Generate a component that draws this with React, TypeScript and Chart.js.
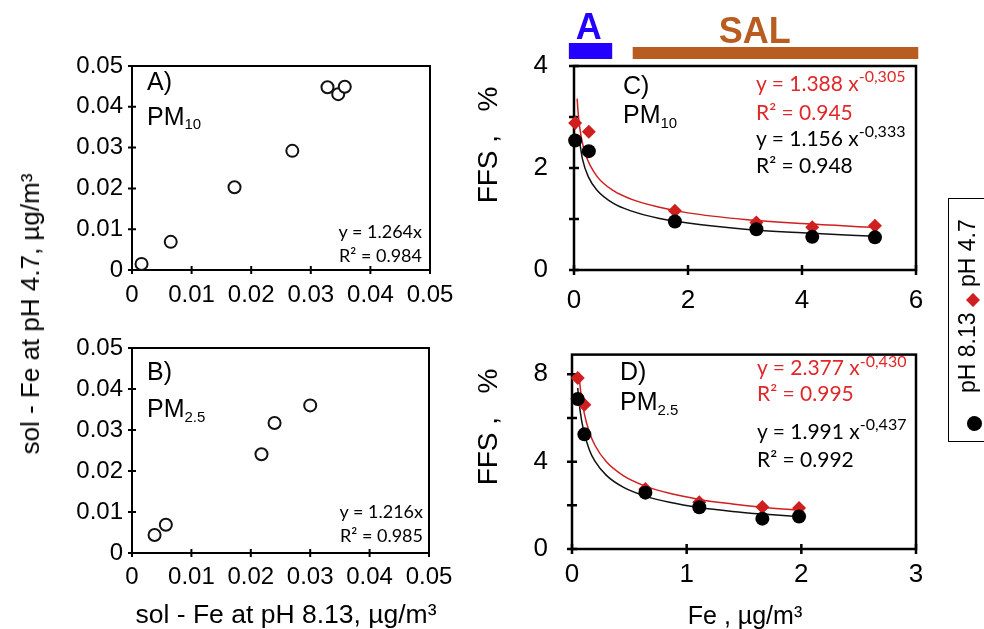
import React, { useEffect, useRef } from 'react';
import { Chart, registerables } from 'chart.js';

Chart.register(...registerables);

const ARIAL = '"Liberation Sans", Arial, sans-serif';
const CALI = 'Lato, "Liberation Sans", sans-serif';
const RED = '#d01f1f';
const RED_TEXT = '#e0282a';

// ---------------- data ----------------
// Panel A (PM10): sol-Fe at pH 8.13 (x) vs sol-Fe at pH 4.7 (y)
const aSolFePH813 = [0.0016, 0.0065, 0.0172, 0.0269, 0.0328, 0.0346, 0.0357];
const aSolFePH47 = [0.0015, 0.0069, 0.0203, 0.0292, 0.0448, 0.0431, 0.0449];
// Panel B (PM2.5)
const bSolFePH813 = [0.0038, 0.0057, 0.0218, 0.024, 0.03];
const bSolFePH47 = [0.0044, 0.0069, 0.0241, 0.0317, 0.036];
// Panel C (PM10): Fe vs FFS
const cFe = [0.02, 0.26, 1.77, 3.2, 4.18, 5.28];
const cFfsPH47 = [2.88, 2.71, 1.16, 0.93, 0.84, 0.87];
const cFfsPH813 = [2.54, 2.33, 0.95, 0.8, 0.65, 0.64];
const cFitFePH47 = [0.055, 0.07, 0.1, 0.14, 0.2, 0.4, 0.7, 1, 1.5, 2, 3, 4, 5.28];
const cFitFfsPH47 = [3.36, 3.12, 2.8, 2.53, 2.27, 1.84, 1.55, 1.39, 1.23, 1.12, 0.99, 0.91, 0.835];
const cFitFePH813 = [0.09, 0.15, 0.25, 0.4, 0.7, 1, 1.5, 2, 3, 4, 5.28];
const cFitFfsPH813 = [2.58, 2.17, 1.83, 1.57, 1.3, 1.16, 1.01, 0.92, 0.8, 0.73, 0.66];
// Panel D (PM2.5)
const dFe = [0.05, 0.108, 0.64, 1.11, 1.66, 1.98];
const dFfsPH47 = [7.83, 6.6, 2.75, 2.14, 1.92, 1.88];
const dFfsPH813 = [6.87, 5.25, 2.58, 1.91, 1.39, 1.49];
const dFitFePH47 = [0.058, 0.08, 0.108, 0.15, 0.2, 0.3, 0.45, 0.64, 0.85, 1.11, 1.4, 1.66, 1.98];
const dFitFfsPH47 = [8.08, 7.04, 6.19, 5.37, 4.75, 3.99, 3.35, 2.88, 2.55, 2.27, 2.06, 1.91, 1.77];
const dFitFePH813 = [0.05, 0.07, 0.1, 0.15, 0.2, 0.3, 0.45, 0.64, 0.85, 1.11, 1.4, 1.66, 1.98];
const dFitFfsPH813 = [7.37, 6.36, 5.45, 4.56, 4.02, 3.37, 2.82, 2.42, 2.14, 1.9, 1.72, 1.6, 1.48];
// Period bands above panel C
const bandLabels = ['A', 'SAL'];
const bandFrom = [-0.09, 1.03];
const bandTo = [0.67, 6.04];
const bandLabelAt = [0.26, 3.17];
const bandColors = ['#2400ff', '#b85c20'];
// Tick labels
const abTickLabels = ['0', '0.01', '0.02', '0.03', '0.04', '0.05'];
const cXTickLabels = ['0', '2', '4', '6'];
const cYTickLabels = ['0', '', '2', '', '4'];
const dXTickLabels = ['0', '1', '2', '3'];
const dYTickLabels = ['0', '', '4', '', '8'];

const pts = (xs: number[], ys: number[]) => xs.map((x, i) => ({ x, y: ys[i] }));

const framePlugin = {
  id: 'frame',
  beforeDatasetsDraw(chart: any, _a: any, opts: any) {
    const { ctx, chartArea: ca, scales } = chart;
    ctx.save();
    ctx.strokeStyle = '#000';
    ctx.lineWidth = opts.width;
    ctx.strokeRect(ca.left, ca.top, ca.right - ca.left, ca.bottom - ca.top);
    ctx.beginPath();
    scales.x.ticks.forEach((t: any) => {
      const p = scales.x.getPixelForValue(t.value);
      ctx.moveTo(p, ca.bottom - opts.inner);
      ctx.lineTo(p, ca.bottom + opts.outer);
    });
    scales.y.ticks.forEach((t: any) => {
      const p = scales.y.getPixelForValue(t.value);
      ctx.moveTo(ca.left - opts.outer, p);
      ctx.lineTo(ca.left + opts.inner, p);
    });
    ctx.stroke();
    ctx.restore();
  },
};

const bandPlugin = {
  id: 'bands',
  afterDraw(chart: any) {
    const { ctx, chartArea: ca, scales } = chart;
    ctx.save();
    bandLabels.forEach((lab, i) => {
      const x0 = scales.x.getPixelForValue(bandFrom[i]);
      const x1 = scales.x.getPixelForValue(bandTo[i]);
      ctx.fillStyle = bandColors[i];
      const top = i === 0 ? ca.top - 23 : ca.top - 19;
      ctx.fillRect(x0, top, x1 - x0, ca.top - 7 - top);
      ctx.font = `bold 36px ${ARIAL}`;
      ctx.textAlign = 'center';
      ctx.textBaseline = 'alphabetic';
      ctx.fillText(lab, scales.x.getPixelForValue(bandLabelAt[i]), i === 0 ? ca.top - 27 : ca.top - 23);
    });
    ctx.restore();
  },
};

type Axis = { min: number; max: number; step: number; labels: string[]; pad: number };

function buildOptions(x: Axis, y: Axis, fontSize: number, frame: any) {
  const tick = (ax: Axis) => ({
    stepSize: ax.step,
    includeBounds: false,
    autoSkip: false,
    maxRotation: 0,
    padding: ax.pad,
    color: '#000',
    font: { family: ARIAL, size: fontSize },
    callback: (v: number) => {
      const idx = Math.round((v - ax.min) / ax.step);
      return ax.labels[idx] ?? '';
    },
  });
  return {
    animation: false,
    responsive: false,
    maintainAspectRatio: false,
    devicePixelRatio: 1,
    events: [],
    plugins: { legend: { display: false }, tooltip: { enabled: false }, frame },
    scales: {
      x: {
        type: 'linear',
        min: x.min,
        max: x.max,
        ticks: tick(x),
        grid: { display: false, drawTicks: false },
        border: { display: false },
      },
      y: {
        type: 'linear',
        min: y.min,
        max: y.max,
        ticks: tick(y),
        grid: { display: false, drawTicks: false },
        border: { display: false },
      },
    },
  } as any;
}

type Area = { l: number; t: number; r: number; b: number };

function Panel({ area, padTop, config }: { area: Area; padTop: number; config: () => any }) {
  const ref = useRef<HTMLCanvasElement>(null);
  const YW = 90;
  const PR = 40;
  const XH = 50;
  const w = area.r - area.l + YW + PR;
  const h = area.b - area.t + padTop + XH;
  useEffect(() => {
    const cfg = config();
    cfg.options.layout = { padding: { left: 0, right: PR, top: padTop, bottom: 0 } };
    cfg.options.scales.x.afterFit = (s: any) => {
      s.height = XH;
    };
    cfg.options.scales.y.afterFit = (s: any) => {
      s.width = YW;
    };
    const chart = new Chart(ref.current as HTMLCanvasElement, cfg);
    return () => chart.destroy();
  }, []);
  return (
    <canvas
      ref={ref}
      width={w}
      height={h}
      style={{ position: 'absolute', left: area.l - YW, top: area.t - padTop, width: w, height: h }}
    />
  );
}

function Txt({
  x,
  y,
  size,
  family = ARIAL,
  color = '#000',
  align = 'left',
  children,
}: any) {
  const base = family === CALI ? 0.887 : 0.8465;
  const tx = align === 'right' ? '-100%' : align === 'center' ? '-50%' : '0';
  return (
    <div
      style={{
        position: 'absolute',
        left: x,
        top: y - base * size,
        fontFamily: family,
        fontSize: size,
        lineHeight: 1,
        color,
        whiteSpace: 'pre',
        transform: `translateX(${tx})`,
      }}
    >
      {children}
    </div>
  );
}

function VTxt({ cx, cy, size, children }: any) {
  return (
    <div
      style={{
        position: 'absolute',
        left: cx,
        top: cy,
        fontFamily: ARIAL,
        fontSize: size,
        lineHeight: 1,
        whiteSpace: 'pre',
        transform: 'translate(-50%, -50%) rotate(-90deg)',
      }}
    >
      {children}
    </div>
  );
}

const Sup = ({ size, up, children }: any) => (
  <span style={{ fontSize: size, position: 'relative', top: -up }}>{children}</span>
);
const Sub = ({ size, down, children }: any) => (
  <span style={{ fontSize: size, position: 'relative', top: down }}>{children}</span>
);

const openCircle = {
  pointRadius: 6,
  pointBorderWidth: 2,
  pointBorderColor: '#111',
  pointBackgroundColor: '#fff',
  clip: false,
};

function ffsDatasets(fe: number[], y47: number[], y813: number[], fx47: number[], fy47: number[], fx813: number[], fy813: number[]) {
  return [
    { data: pts(fe, y813), pointRadius: 7, pointBackgroundColor: '#000', pointBorderWidth: 0, clip: false },
    { data: pts(fe, y47), pointStyle: 'rectRot', pointRadius: 7, pointBackgroundColor: RED, pointBorderWidth: 0, clip: false },
    { data: pts(fx813, fy813), showLine: true, pointRadius: 0, borderColor: '#111', borderWidth: 1.5, cubicInterpolationMode: 'monotone', clip: false },
    { data: pts(fx47, fy47), showLine: true, pointRadius: 0, borderColor: RED, borderWidth: 1.5, cubicInterpolationMode: 'monotone', clip: false },
  ];
}

export default function App() {
  const frameAB = { width: 2, inner: 4, outer: 4 };
  const frameCD = { width: 2.5, inner: 5, outer: 5 };
  return (
    <div style={{ position: 'absolute', left: 0, top: 0, width: 984, height: 629, background: '#fff', overflow: 'hidden' }}>
      <Panel
        area={{ l: 132, t: 66, r: 430, b: 270 }}
        padTop={30}
        config={() => ({
          type: 'scatter',
          data: { datasets: [{ data: pts(aSolFePH813, aSolFePH47), ...openCircle }] },
          options: buildOptions(
            { min: 0, max: 0.05, step: 0.01, labels: abTickLabels, pad: 11 },
            { min: 0, max: 0.05, step: 0.01, labels: abTickLabels, pad: 9 },
            24,
            frameAB
          ),
          plugins: [framePlugin],
        })}
      />
      <Panel
        area={{ l: 132, t: 348, r: 429, b: 553 }}
        padTop={30}
        config={() => ({
          type: 'scatter',
          data: { datasets: [{ data: pts(bSolFePH813, bSolFePH47), ...openCircle }] },
          options: buildOptions(
            { min: 0, max: 0.05, step: 0.01, labels: abTickLabels, pad: 10 },
            { min: 0, max: 0.05, step: 0.01, labels: abTickLabels, pad: 9 },
            24,
            frameAB
          ),
          plugins: [framePlugin],
        })}
      />
      <Panel
        area={{ l: 574, t: 66, r: 916, b: 270 }}
        padTop={66}
        config={() => ({
          type: 'scatter',
          data: {
            datasets: ffsDatasets(cFe, cFfsPH47, cFfsPH813, cFitFePH47, cFitFfsPH47, cFitFePH813, cFitFfsPH813),
          },
          options: buildOptions(
            { min: 0, max: 6, step: 2, labels: cXTickLabels, pad: 15 },
            { min: 0, max: 4, step: 1, labels: cYTickLabels, pad: 26 },
            26,
            frameCD
          ),
          plugins: [framePlugin, bandPlugin],
        })}
      />
      <Panel
        area={{ l: 572, t: 345, r: 916, b: 549 }}
        padTop={30}
        config={() => ({
          type: 'scatter',
          data: {
            datasets: ffsDatasets(dFe, dFfsPH47, dFfsPH813, dFitFePH47, dFitFfsPH47, dFitFePH813, dFitFfsPH813),
          },
          options: buildOptions(
            { min: 0, max: 3, step: 1, labels: dXTickLabels, pad: 10 },
            { min: 0, max: 8.9, step: 2, labels: dYTickLabels, pad: 24 },
            26,
            frameCD
          ),
          plugins: [framePlugin],
        })}
      />

      {/* Panel labels */}
      <Txt x={147} y={90} size={25}>A)</Txt>
      <Txt x={147} y={125} size={25}>
        PM<Sub size={15} down={4}>10</Sub>
      </Txt>
      <Txt x={422} y={238} size={18} family={CALI} align="right">y = 1.264x</Txt>
      <Txt x={422} y={262} size={18} family={CALI} align="right">R² = 0.984</Txt>

      <Txt x={147} y={380} size={25}>B)</Txt>
      <Txt x={147} y={417} size={25}>
        PM<Sub size={15} down={5}>2.5</Sub>
      </Txt>
      <Txt x={423} y={518} size={18} family={CALI} align="right">y = 1.216x</Txt>
      <Txt x={423} y={542} size={18} family={CALI} align="right">R² = 0.985</Txt>

      <Txt x={623} y={94} size={25}>C)</Txt>
      <Txt x={623} y={123} size={25}>
        PM<Sub size={15} down={5}>10</Sub>
      </Txt>
      <Txt x={756} y={91} size={21} family={CALI} color={RED_TEXT}>
        y = 1.388 x<Sup size={16} up={9}>-0,305</Sup>
      </Txt>
      <Txt x={756} y={120} size={21} family={CALI} color={RED_TEXT}>R² = 0.945</Txt>
      <Txt x={756} y={146} size={21} family={CALI}>
        y = 1.156 x<Sup size={16} up={9}>-0,333</Sup>
      </Txt>
      <Txt x={756} y={173} size={21} family={CALI}>R² = 0.948</Txt>

      <Txt x={620} y={380} size={25}>D)</Txt>
      <Txt x={620} y={410} size={25}>
        PM<Sub size={15} down={5}>2.5</Sub>
      </Txt>
      <Txt x={757} y={375} size={21} family={CALI} color={RED_TEXT}>
        y = 2.377 x<Sup size={16} up={8}>-0,430</Sup>
      </Txt>
      <Txt x={757} y={401} size={21} family={CALI} color={RED_TEXT}>R² = 0.995</Txt>
      <Txt x={757} y={439} size={21} family={CALI}>
        y = 1.991 x<Sup size={16} up={9}>-0,437</Sup>
      </Txt>
      <Txt x={757} y={467} size={21} family={CALI}>R² = 0.992</Txt>

      {/* Axis titles */}
      <VTxt cx={30} cy={314} size={26}>sol - Fe at pH 4.7, µg/m³</VTxt>
      <Txt x={286} y={623} size={26.5} align="center">sol - Fe at pH 8.13, µg/m³</Txt>
      <VTxt cx={488} cy={145} size={28}>FFS ,   %</VTxt>
      <VTxt cx={488} cy={427} size={28}>FFS ,   %</VTxt>
      <Txt x={745} y={624} size={25} align="center">Fe , µg/m³</Txt>

      {/* Legend (rotated) */}
      <div
        style={{
          position: 'absolute',
          left: 970 - 122,
          top: 320 - 22,
          width: 244,
          height: 44,
          border: '1.5px solid #000',
          boxSizing: 'border-box',
          transform: 'rotate(-90deg)',
          background: '#fff',
          fontFamily: ARIAL,
          fontSize: 23,
        }}
      >
        <div style={{ position: 'absolute', left: 10, top: 18, width: 15, height: 15, borderRadius: '50%', background: '#000' }} />
        <div style={{ position: 'absolute', left: 48, top: 7, lineHeight: 1, whiteSpace: 'pre' }}>pH 8.13</div>
        <div style={{ position: 'absolute', left: 136, top: 19, width: 10, height: 10, background: RED, transform: 'rotate(45deg)' }} />
        <div style={{ position: 'absolute', left: 154, top: 7, lineHeight: 1, whiteSpace: 'pre' }}>pH 4.7</div>
      </div>
    </div>
  );
}
